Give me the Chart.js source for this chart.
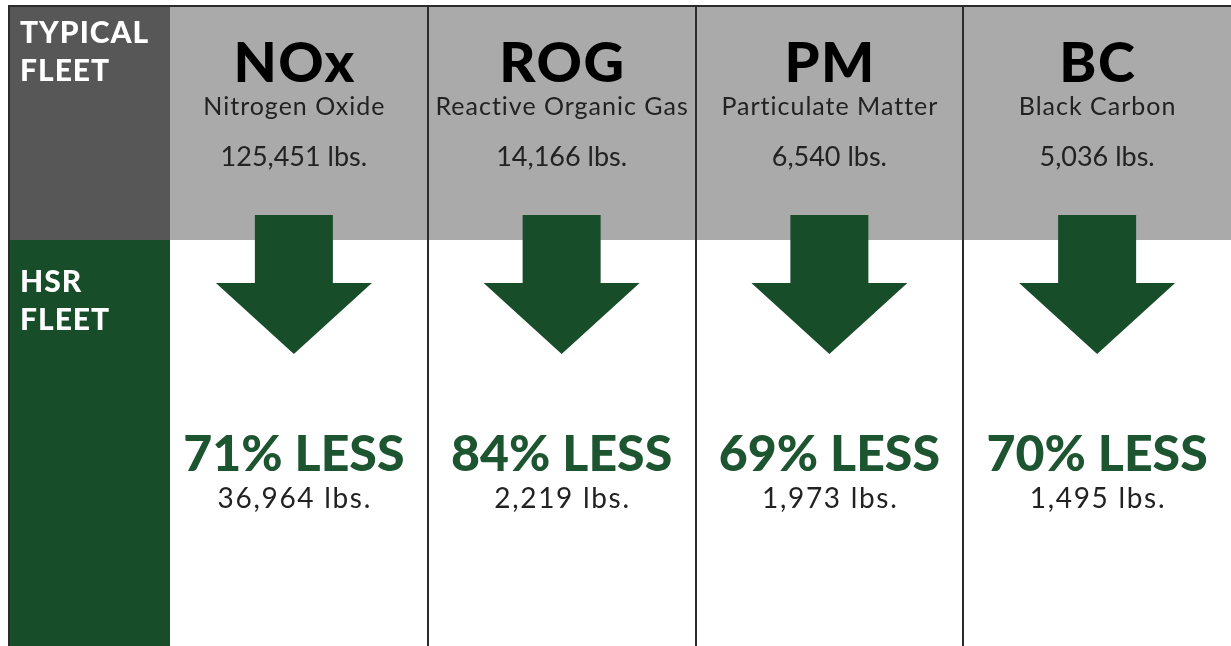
<!DOCTYPE html>
<html lang="en">
<head>
  <meta charset="UTF-8" />
  <title>Typical fleet vs HSR fleet emissions</title>
  <script src="https://cdn.jsdelivr.net/npm/chart.js"></script>
  <style>
    html, body { margin: 0; padding: 0; background: #fff; }
    canvas { display: block; }
  </style>
</head>
<body>
  <canvas id="chart" width="1231" height="646"></canvas>

  <script>
    const categories = ["NOx", "ROG", "PM", "BC"];
    const fullNames = ["Nitrogen Oxide", "Reactive Organic Gas", "Particulate Matter", "Black Carbon"];
    const typicalLbs = [125451, 14166, 6540, 5036];
    const hsrLbs = [36964, 2219, 1973, 1495];
    const pctLess = [71, 84, 69, 70];
    const rowLabels = [["TYPICAL", "FLEET"], ["HSR", "FLEET"]];

    const GREEN = "#184d2a";
    const fmt = v => v.toLocaleString("en-US") + " lbs.";

    // letterSpacing adds space after the last glyph too, shift by half of it
    function text(ctx, str, x, y, font, color, spacing) {
      ctx.font = font;
      ctx.fillStyle = color;
      ctx.letterSpacing = (spacing || 0) + "px";
      const dx = ctx.textAlign === "center" ? (spacing || 0) / 2 : 0;
      ctx.fillText(str, x + dx, y);
    }

    // draws the panels, arrows and texts at the x positions of the category scale
    const infoPlugin = {
      id: "info",
      beforeDraw(chart) {
        const ctx = chart.ctx;
        const x = chart.scales.x;
        const W = chart.width, H = chart.height;
        const bandTop = 6, bandBottom = 240, leftX = 9, leftW = 170;

        ctx.save();
        ctx.fillStyle = "#ffffff";
        ctx.fillRect(0, 0, W, H);

        // grey band for the typical fleet
        ctx.fillStyle = "#aaaaaa";
        ctx.fillRect(leftW, bandTop, W - leftW, bandBottom - bandTop);

        // left row header
        ctx.fillStyle = "#575757";
        ctx.fillRect(leftX, bandTop, leftW - leftX, bandBottom - bandTop);
        ctx.fillStyle = GREEN;
        ctx.fillRect(leftX, bandBottom, leftW - leftX, H - bandBottom);

        // frame
        ctx.strokeStyle = "#2b2b2b";
        ctx.lineWidth = 2;
        ctx.beginPath();
        ctx.moveTo(leftX, H);
        ctx.lineTo(leftX, bandTop);
        ctx.lineTo(W, bandTop);
        ctx.stroke();

        // column dividers half way between categories
        for (let i = 0; i < categories.length - 1; i++) {
          const bx = Math.round((x.getPixelForValue(i) + x.getPixelForValue(i + 1)) / 2);
          ctx.beginPath();
          ctx.moveTo(bx, bandTop);
          ctx.lineTo(bx, H);
          ctx.stroke();
        }

        // row labels
        ctx.textAlign = "left";
        ctx.textBaseline = "alphabetic";
        const lab = "900 30px Lato";
        text(ctx, rowLabels[0][0], 20, 43, lab, "#ffffff", 1);
        text(ctx, rowLabels[0][1], 20, 81, lab, "#ffffff", 1);
        text(ctx, rowLabels[1][0], 20, 292, lab, "#ffffff", 1);
        text(ctx, rowLabels[1][1], 20, 330, lab, "#ffffff", 1);

        categories.forEach((cat, i) => {
          const cx = x.getPixelForValue(i);

          // arrow
          ctx.fillStyle = GREEN;
          ctx.beginPath();
          ctx.moveTo(cx - 39, 215);
          ctx.lineTo(cx + 39, 215);
          ctx.lineTo(cx + 39, 283);
          ctx.lineTo(cx + 78, 283);
          ctx.lineTo(cx, 354);
          ctx.lineTo(cx - 78, 283);
          ctx.lineTo(cx - 39, 283);
          ctx.closePath();
          ctx.fill();

          ctx.textAlign = "center";
          text(ctx, cat, cx, 82, "900 56px Lato", "#000000", 1.5);
          text(ctx, fullNames[i], cx, 115, "25px Lato", "#222222", 1);
          text(ctx, fmt(typicalLbs[i]), cx, 166, "27px Lato", "#222222", 0);
          text(ctx, pctLess[i] + "% LESS", cx, 471, "900 50px Lato", "#1c5530", 0);
          text(ctx, fmt(hsrLbs[i]), cx, 508, "28px Lato", "#222222", 1.7);
        });
        ctx.restore();
      }
    };

    new Chart(document.getElementById("chart"), {
      type: "bar",
      data: {
        labels: categories,
        datasets: [{
          label: "HSR fleet (lbs.)",
          data: hsrLbs,
          backgroundColor: "rgba(0,0,0,0)",
          borderWidth: 0
        }]
      },
      options: {
        responsive: false,
        animation: false,
        layout: { padding: { left: 160, right: 0, top: 0, bottom: 0 } },
        plugins: {
          legend: { display: false },
          tooltip: { enabled: false }
        },
        scales: {
          x: { display: false },
          y: { display: false, beginAtZero: true }
        }
      },
      plugins: [infoPlugin]
    });
  </script>
</body>
</html>
